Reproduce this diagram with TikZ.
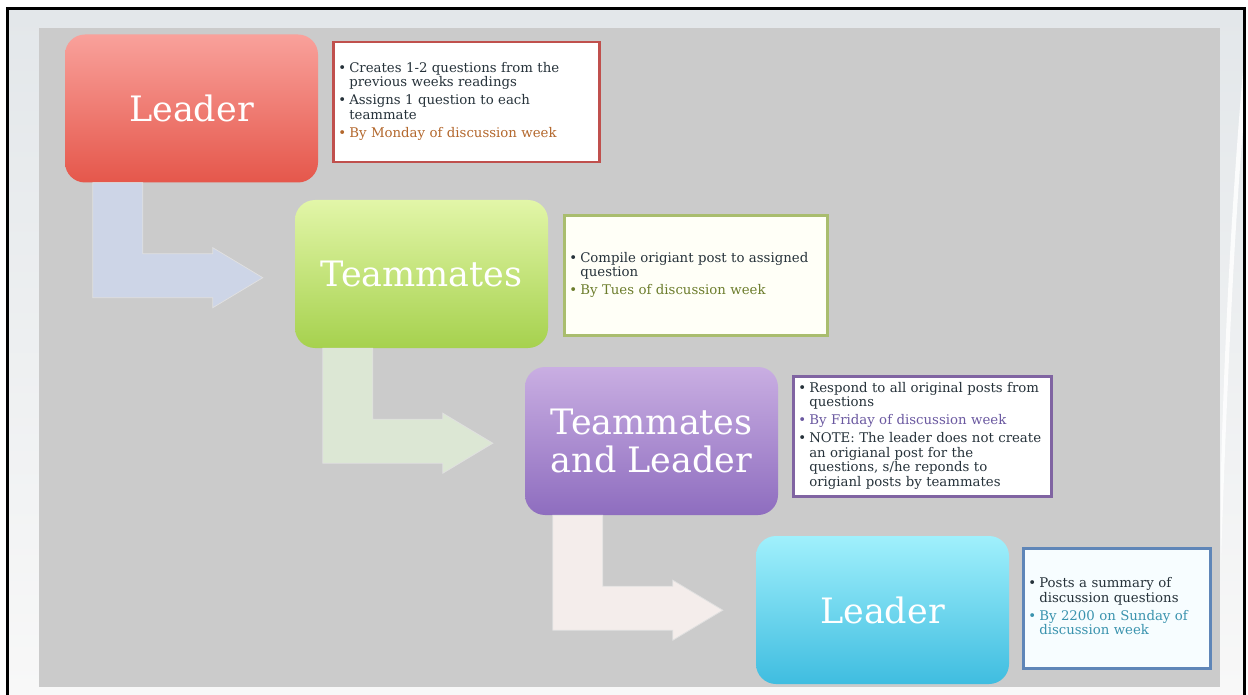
\documentclass[tikz,border=0pt]{standalone}
\usepackage{fontspec}
\setmainfont{DejaVu Serif}
\usepackage{xcolor}
\usetikzlibrary{positioning, calc}
\definecolor{slidegray}{HTML}{CBCBCB}
\definecolor{backtop}{HTML}{E3E7EA}
\definecolor{backbot}{HTML}{F8F8F8}
\definecolor{leadtop}{HTML}{F9A19B}
\definecolor{leadbot}{HTML}{E5574B}
\definecolor{teamtop}{HTML}{E2F6A8}
\definecolor{teambot}{HTML}{A6D14E}
\definecolor{bothtop}{HTML}{C9AEE2}
\definecolor{bothbot}{HTML}{8E6DBF}
\definecolor{sumtop}{HTML}{A0F0FC}
\definecolor{sumbot}{HTML}{3FBDE0}
\definecolor{arrowblue}{HTML}{CDD5E7}
\definecolor{arrowgreen}{HTML}{DCE7D4}
\definecolor{arrowrose}{HTML}{F4EDEB}
\definecolor{redline}{HTML}{C0504D}
\definecolor{greenline}{HTML}{A9BD6E}
\definecolor{purpleline}{HTML}{8064A2}
\definecolor{blueline}{HTML}{5F86B8}
\definecolor{inktext}{HTML}{26323A}
\definecolor{mondayink}{HTML}{B3672C}
\definecolor{tuesink}{HTML}{6C7D2C}
\definecolor{fridayink}{HTML}{6A58A0}
\definecolor{sundayink}{HTML}{3A93AE}

\tikzset{
  stagebox/.style={rounded corners=20pt, minimum width=253pt, minimum height=148pt,
        text=white, font=\fontsize{35}{38}\selectfont, align=center},
  notebox/.style={fill=white, line width=2.5pt, minimum height=120pt, inner xsep=5pt,
        text=inktext, font=\fontsize{13.3}{14.5}\selectfont},
}
% bent arrow from below one stage towards the next
\newcommand{\stagearrow}[2]{%
  \fill[#2, draw=black!12, line width=0.8pt] ($(#1.south west)+(28,0)$) -- ++(50,0) -- ++(0,71)
    -- ++(70,0) -- ++(0,-6) -- ++(50,30) -- ++(-50,30) -- ++(0,-10) -- ++(-120,0) -- cycle;}

\begin{document}
\begin{tikzpicture}[x=1pt, y=-1pt]
  \useasboundingbox (0,0) rectangle (1248,695);
  % slide backdrop
  \fill[white] (0,0) rectangle (1248,695);
  \shade[top color=backtop, bottom color=backbot] (8,10) rectangle (1243,695);
  \fill[white, opacity=0.85] (1243,70) .. controls (1232,200) and (1225,330) .. (1221,470)
    -- (1221,560) .. controls (1227,380) and (1235,220) .. (1243,130) -- cycle;
  \fill[slidegray] (39,28) rectangle (1220,687);
  \draw[line width=3pt] (7.5,695) -- (7.5,9) -- (1244.5,9) -- (1244.5,695);

  % stages
  \node[stagebox, top color=leadtop, bottom color=leadbot] (lead1) at (191.5,108.5) {Leader};
  \node[stagebox, top color=teamtop, bottom color=teambot] (team) at (421.5,274) {Teammates};
  \node[stagebox, top color=bothtop, bottom color=bothbot] (both) at (651.5,441) {Teammates\\and Leader};
  \node[stagebox, top color=sumtop, bottom color=sumbot] (lead2) at (882.5,610) {Leader};

  \stagearrow{lead1}{arrowblue}
  \stagearrow{team}{arrowgreen}
  \stagearrow{both}{arrowrose}

  % notes
  \node[notebox, draw=redline, right=14pt of lead1, yshift=6.5pt, text width=256pt] (note1) {%
    \begin{tabular}{@{}l@{\hspace{3pt}}l@{}}
      \textbullet & Creates 1-2 questions from the\\
                  & previous weeks readings\\[3.5pt]
      \textbullet & Assigns 1 question to each\\
                  & teammate\\[3.5pt]
      \color{mondayink}\textbullet & \color{mondayink}By Monday of discussion week
    \end{tabular}};
  \node[notebox, draw=greenline, fill=white!97!yellow, right=15pt of team, yshift=-1.5pt, text width=253pt] (note2) {%
    \begin{tabular}{@{}l@{\hspace{3pt}}l@{}}
      \textbullet & Compile origiant post to assigned\\
                  & question\\[3.5pt]
      \color{tuesink}\textbullet & \color{tuesink}By Tues of discussion week
    \end{tabular}};
  \node[notebox, draw=purpleline, right=14pt of both, yshift=4.5pt, text width=248pt] (note3) {%
    \begin{tabular}{@{}l@{\hspace{3pt}}l@{}}
      \textbullet & Respond to all original posts from\\
                  & questions\\[3.5pt]
      \color{fridayink}\textbullet & \color{fridayink}By Friday of discussion week\\[3.5pt]
      \textbullet & NOTE: The leader does not create\\
                  & an origianal post for the\\
                  & questions, s/he reponds to\\
                  & origianl posts by teammates
    \end{tabular}};
  \node[notebox, draw=blueline, fill=white!97!cyan, right=13pt of lead2, yshift=1.5pt, text width=177pt] (note4) {%
    \begin{tabular}{@{}l@{\hspace{3pt}}l@{}}
      \textbullet & Posts a summary of\\
                  & discussion questions\\[3.5pt]
      \color{sundayink}\textbullet & \color{sundayink}By 2200 on Sunday of\\
                  & \color{sundayink}discussion week
    \end{tabular}};
\end{tikzpicture}
\end{document}
